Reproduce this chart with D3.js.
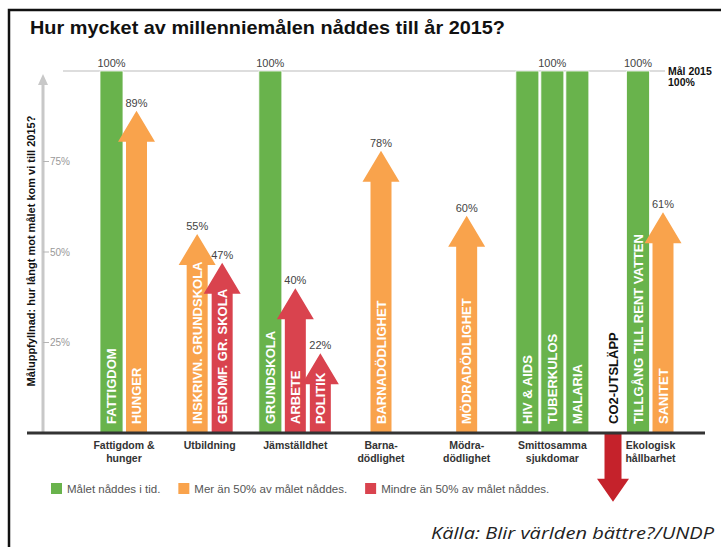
<!DOCTYPE html>
<html lang="sv">
<head>
<meta charset="UTF-8"/>
<title>Millenniemålen</title>
<script src="https://d3js.org/d3.v7.min.js"></script>
<style>
  body { margin: 0; background: #fff; }
  svg { display: block; font-family: "Liberation Sans", Arial, sans-serif; }
</style>
</head>
<body>
<div id="chart"></div>
<script>
// Data
var groups = ["Fattigdom &\nhunger", "Utbildning", "Jämställdhet", "Barna-\ndödlighet",
              "Mödra-\ndödlighet", "Smittosamma\nsjukdomar", "Ekologisk\nhållbarhet"];
var items = ["FATTIGDOM", "HUNGER", "INSKRIVN. GRUNDSKOLA", "GENOMF. GR. SKOLA",
             "GRUNDSKOLA", "ARBETE", "POLITIK", "BARNADÖDLIGHET", "MÖDRADÖDLIGHET",
             "HIV & AIDS", "TUBERKULOS", "MALARIA", "CO2-UTSLÄPP",
             "TILLGÅNG TILL RENT VATTEN", "SANITET"];
var itemGroup = [0, 0, 1, 1, 2, 2, 2, 3, 4, 5, 5, 5, 6, 6, 6];
var values = [100, 89, 55, 47, 100, 40, 22, 78, 60, 100, 100, 100, -19, 100, 61];
var yTicks = [25, 50, 75];
var legendLabels = ["Målet nåddes i tid.", "Mer än 50% av målet nåddes.", "Mindre än 50% av målet nåddes."];

var width = 721, height = 547;
var colors = { met: "#69b34c", over: "#f9a34c", under: "#d9434e", worse: "#c5222b" };

function status(v) {
  if (v >= 100) return "met";
  if (v >= 50) return "over";
  if (v >= 0) return "under";
  return "worse";
}

var svg = d3.select("#chart").append("svg")
  .attr("width", width)
  .attr("height", height);

// frame
svg.append("path")
  .attr("d", "M9," + height + "V10H" + width)
  .attr("fill", "none")
  .attr("stroke", "#111")
  .attr("stroke-width", 2.5);

// title
svg.append("text")
  .attr("x", 30).attr("y", 34)
  .attr("font-size", 19).attr("font-weight", "bold").attr("fill", "#111")
  .attr("textLength", 475).attr("lengthAdjust", "spacingAndGlyphs")
  .text("Hur mycket av millenniemålen nåddes till år 2015?");

// scales
var y = d3.scaleLinear().domain([0, 100]).range([433, 71]);
var gx = d3.scalePoint().domain(d3.range(groups.length)).range([124, 638]);
var step = 25;

var data = items.map(function(name, i) {
  var g = itemGroup[i];
  var members = itemGroup.map(function(d, j) { return d === g ? j : -1; }).filter(function(j) { return j >= 0; });
  var k = members.indexOf(i);
  return {
    name: name, value: values[i], group: g,
    x: gx(g) + (k - (members.length - 1) / 2) * step,
    status: status(values[i])
  };
});

// 100% goal line
svg.append("line")
  .attr("x1", 63).attr("x2", 665)
  .attr("y1", y(100)).attr("y2", y(100))
  .attr("stroke", "#d2d2d2").attr("stroke-width", 1.5);

svg.append("text").attr("x", 668).attr("y", y(100) + 4)
  .attr("font-size", 10.5).attr("font-weight", "bold").attr("fill", "#111")
  .text("Mål 2015");
svg.append("text").attr("x", 668).attr("y", y(100) + 15)
  .attr("font-size", 10.5).attr("font-weight", "bold").attr("fill", "#111")
  .text("100%");

// y axis with arrow
svg.append("line")
  .attr("x1", 43).attr("x2", 43)
  .attr("y1", y(0)).attr("y2", 82)
  .attr("stroke", "#c8c8c8").attr("stroke-width", 3);
svg.append("path")
  .attr("d", "M43,74L48,85H38Z")
  .attr("fill", "#c8c8c8");

var ticks = svg.append("g").selectAll("g")
  .data(yTicks).enter().append("g")
  .attr("transform", function(d) { return "translate(43," + y(d) + ")"; });
ticks.append("line").attr("x1", 0).attr("x2", 6)
  .attr("stroke", "#b5b5b5").attr("stroke-width", 1);
ticks.append("text").attr("x", 7).attr("dy", "0.35em")
  .attr("font-size", 10).attr("fill", "#999")
  .text(function(d) { return d + "%"; });

svg.append("text")
  .attr("transform", "translate(35,251) rotate(-90)")
  .attr("text-anchor", "middle")
  .attr("font-size", 11).attr("font-weight", "bold").attr("fill", "#111")
  .text("Måluppfyllnad: hur långt mot målet kom vi till 2015?");

// bars and arrows
function shape(d) {
  var y0 = y(0), yt = y(d.value);
  if (d.value >= 100) {
    var bw = 23;
    return "M" + (d.x - bw / 2) + "," + y0 + "V" + yt + "H" + (d.x + bw / 2) + "V" + y0 + "Z";
  }
  var down = d.value < 0;
  var sw = down ? 17 : 21, hw = down ? 32 : 37, hh = down ? 23 : 31;
  var yb = down ? yt - hh : yt + hh;
  var pts = [[d.x - sw / 2, y0], [d.x - sw / 2, yb], [d.x - hw / 2, yb], [d.x, yt],
             [d.x + hw / 2, yb], [d.x + sw / 2, yb], [d.x + sw / 2, y0]];
  return d3.line()(pts) + "Z";
}

var marks = svg.append("g").selectAll("g")
  .data(data).enter().append("g");

marks.append("path")
  .attr("d", shape)
  .attr("fill", function(d) { return colors[d.status]; })
  .attr("stroke", function(d) { return d.value >= 100 ? "#fff" : "none"; })
  .attr("stroke-width", 0.8);

marks.append("text")
  .attr("transform", function(d) { return "translate(" + (d.x + 4.6) + ",424) rotate(-90)"; })
  .attr("font-size", 13).attr("font-weight", "bold")
  .attr("fill", function(d) { return d.value < 0 ? "#111" : "#fff"; })
  .text(function(d) { return d.name; });

// value labels (one 100% label per group)
var labels = [];
groups.forEach(function(g, gi) {
  var full = data.filter(function(d) { return d.group === gi && d.value >= 100; });
  if (full.length) labels.push({ x: d3.mean(full, function(d) { return d.x; }), value: 100 });
});
data.forEach(function(d) {
  if (d.value > 0 && d.value < 100) labels.push({ x: d.x, value: d.value });
});
svg.append("g").selectAll("text")
  .data(labels).enter().append("text")
  .attr("x", function(d) { return d.x; })
  .attr("y", function(d) { return y(d.value) - 4; })
  .attr("text-anchor", "middle")
  .attr("font-size", 11).attr("fill", "#444")
  .text(function(d) { return d.value + "%"; });

// baseline
svg.append("line")
  .attr("x1", 27).attr("x2", 705)
  .attr("y1", y(0)).attr("y2", y(0))
  .attr("stroke", "#333").attr("stroke-width", 3);

// group labels, centred under the upward marks
var gl = svg.append("g").selectAll("text")
  .data(groups).enter().append("text")
  .attr("text-anchor", "middle")
  .attr("font-size", 10.5).attr("font-weight", "bold").attr("fill", "#333")
  .attr("transform", function(g, gi) {
    var up = data.filter(function(d) { return d.group === gi && d.value > 0; });
    return "translate(" + d3.mean(up, function(d) { return d.x; }) + ",449)";
  });
gl.selectAll("tspan")
  .data(function(g) { return g.split("\n"); })
  .enter().append("tspan")
  .attr("x", 0)
  .attr("dy", function(d, i) { return i ? 13 : 0; })
  .text(function(d) { return d; });

// legend
var legendKeys = ["met", "over", "under"];
var lx = 51;
legendKeys.forEach(function(k, i) {
  svg.append("rect").attr("x", lx).attr("y", 483)
    .attr("width", 11).attr("height", 11)
    .attr("fill", colors[k]);
  var t = svg.append("text").attr("x", lx + 16).attr("y", 493)
    .attr("font-size", 11.5).attr("fill", "#555")
    .text(legendLabels[i]);
  lx += 16 + t.node().getComputedTextLength() + 18;
});

// source
svg.append("text")
  .attr("x", 431).attr("y", 539)
  .attr("font-family", "'Open Sans', sans-serif")
  .attr("font-style", "italic")
  .attr("font-size", 17).attr("fill", "#222")
  .attr("textLength", 283).attr("lengthAdjust", "spacingAndGlyphs")
  .text("Källa: Blir världen bättre?/UNDP");
</script>
</body>
</html>
